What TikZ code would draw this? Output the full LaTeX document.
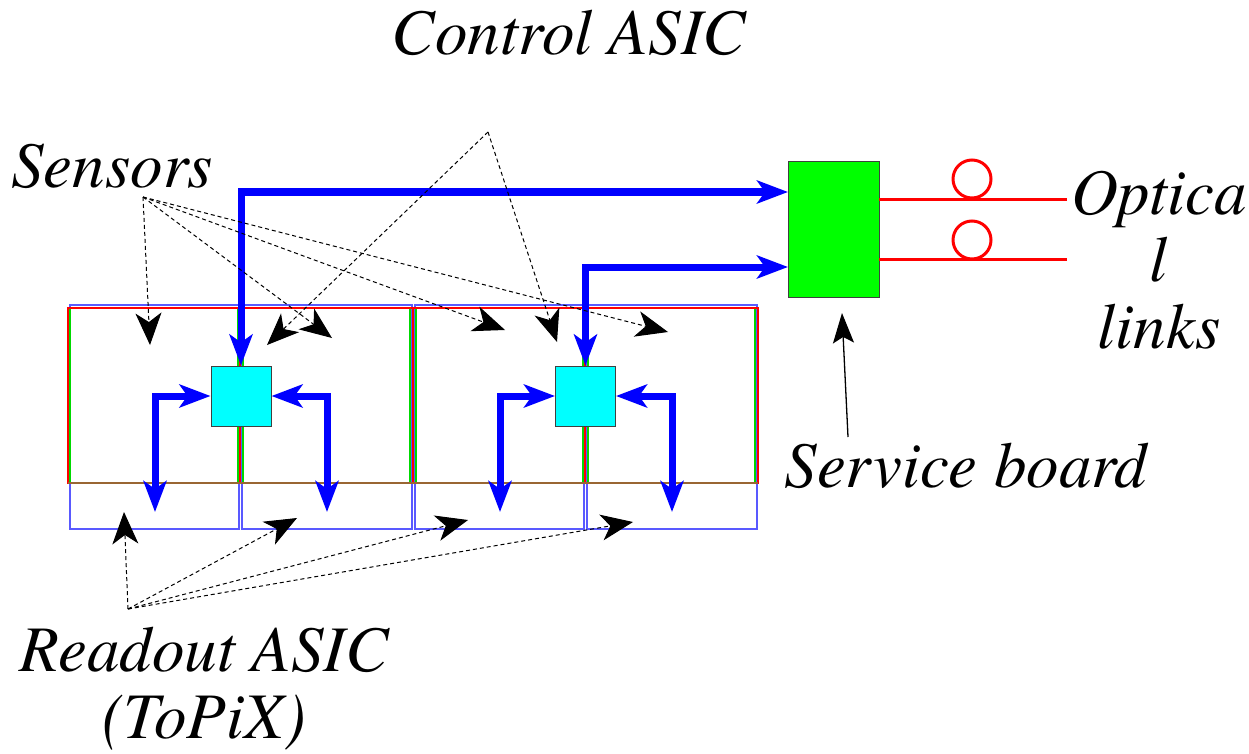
\documentclass[tikz,border=0pt]{standalone}
\usepackage{fontspec}
\newfontfamily\labelfont{texgyretermes-italic.otf}
\usetikzlibrary{arrows.meta}
\definecolor{aqua}{RGB}{0,255,255}
\definecolor{lime}{RGB}{0,255,0}
\begin{document}
\begin{tikzpicture}[x=1pt,y=-1pt,
  lbl/.style={font=\fontsize{65}{67}\labelfont, inner sep=0pt, anchor=base, align=center},
  sensorred/.style={draw=red, line width=1.3pt},
  sensorgreen/.style={draw=lime!85!black, line width=1.3pt},
  readoutbox/.style={draw=blue!65, line width=1.2pt},
  ctrlbox/.style={draw=black!75, fill=aqua, line width=1pt, minimum width=60pt, minimum height=60pt, inner sep=0pt},
  svcbox/.style={draw=black!75, fill=lime, line width=1pt, minimum width=91pt, minimum height=135pt, inner sep=0pt},
  bus/.style={draw=blue, line width=7pt, {Stealth[length=31pt,width=23pt,inset=8pt]}-{Stealth[length=31pt,width=23pt,inset=8pt]}},
  pointer/.style={draw=black, line width=1pt, dash pattern=on 4pt off 3pt, -{Stealth[length=32pt,width=26pt,inset=9pt]}},
  fibre/.style={draw=red, line width=3pt}
]
\useasboundingbox (0,0) rectangle (1249,754);

% readout ASIC rectangles
\draw[readoutbox] (70,305) rectangle (239,529);
\draw[readoutbox] (242,305) rectangle (412,529);
\draw[readoutbox] (415,305) rectangle (584,529);
\draw[readoutbox] (587,305) rectangle (757,529);
% sensors
\draw[sensorgreen] (70,308) rectangle (238,483);
\draw[sensorgreen] (243,308) rectangle (410,483);
\draw[sensorgreen] (416,308) rectangle (583,483);
\draw[sensorgreen] (588,308) rectangle (755,483);
\draw[sensorred] (68,308) rectangle (240,483);
\draw[sensorred] (240,308) rectangle (413,483);
\draw[sensorred] (413,308) rectangle (585,483);
\draw[sensorred] (585,308) rectangle (758,483);
\draw[draw=brown!80!black, line width=1.3pt] (68,483) -- (758,483);

% control ASICs and service board
\node[ctrlbox] (c1) at (241,396) {};
\node[ctrlbox] (c2) at (585.5,396) {};
\node[svcbox] (sb) at (833.5,229.5) {};

% bus endpoints
\coordinate (sbin1) at (788,192);
\coordinate (sbin2) at (788,267);
\coordinate (l1) at (155,512);
\coordinate (r1) at (327,512);
\coordinate (l2) at (500,512);
\coordinate (r2) at (672,512);

\draw[bus] (c1.north) |- (sbin1);
\draw[bus] (c2.north) |- (sbin2);
\draw[bus] (c1.west) -| (l1);
\draw[bus] (c1.east) -| (r1);
\draw[bus] (c2.west) -| (l2);
\draw[bus] (c2.east) -| (r2);

% optical fibres
\coordinate (f1s) at (879,199);
\coordinate (f1e) at (1067,199);
\coordinate (f2s) at (879,259);
\coordinate (f2e) at (1067,259);
\draw[fibre] (f1s) -- (f1e);
\draw[fibre] (f2s) -- (f2e);
\draw[fibre] (972,179) circle (19);
\draw[fibre] (972,240) circle (19);

% labels (anchor=base is the baseline of the last line)
\node[lbl] (tctrl) at (569,55) {Control ASIC};
\node[lbl] (tsens) at (112,187) {Sensors};
\node[lbl] (topt) at (1159,348) {Optica\\l\\links};
\node[lbl] (tsvc) at (966,487) {Service board};
\node[lbl] (tread) at (204,738) {Readout ASIC\\(ToPiX)};

% pointer origins and tips
\coordinate (os) at (143,197);
\coordinate (oc) at (488,132);
\coordinate (orr) at (128,609);
\coordinate (s1) at (150,345);
\coordinate (s2) at (332,338);
\coordinate (s3) at (505,330);
\coordinate (s4) at (668,332);
\coordinate (k1) at (267,345);
\coordinate (k2) at (557,342);
\coordinate (q1) at (124,512);
\coordinate (q2) at (297,518);
\coordinate (q3) at (468,520);
\coordinate (q4) at (633,522);
\coordinate (sbt) at (848,437);
\coordinate (sbh) at (842,313);

\foreach \t in {s1,s2,s3,s4} \draw[pointer] (os) -- (\t);
\foreach \t in {k1,k2} \draw[pointer] (oc) -- (\t);
\foreach \t in {q1,q2,q3,q4} \draw[pointer] (orr) -- (\t);
\draw[line width=1.3pt, -{Stealth[length=30pt,width=21pt,inset=6pt]}] (sbt) -- (sbh);
\end{tikzpicture}
\end{document}
